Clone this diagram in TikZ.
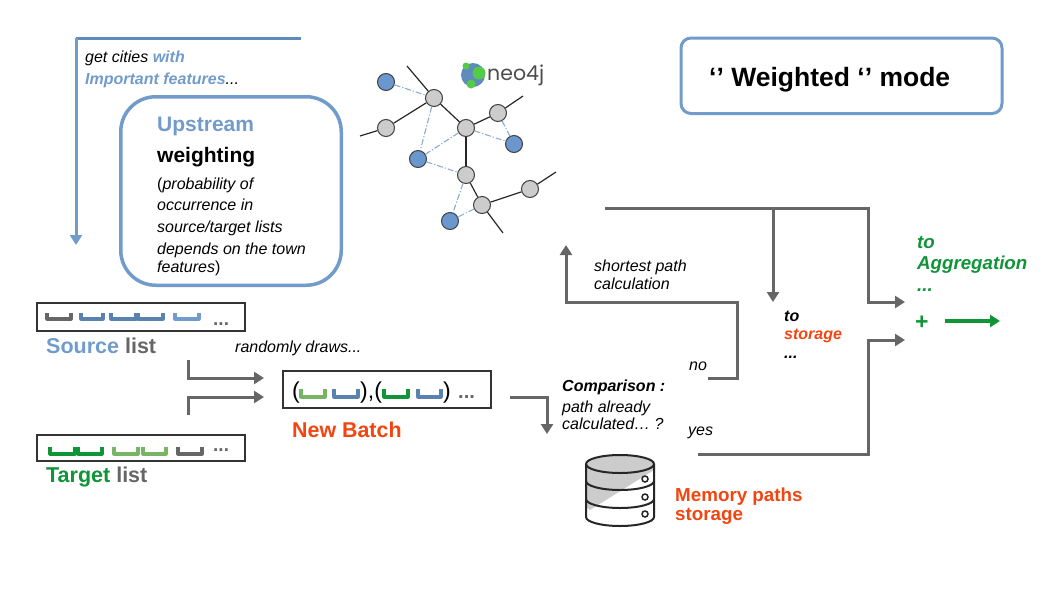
\documentclass[tikz,border=0pt]{standalone}
\usepackage{fontspec}
\setmainfont{Liberation Sans}
\newfontfamily\logofont{Poppins}
\usetikzlibrary{arrows.meta}
\definecolor{srcblue}{HTML}{719BCB}
\definecolor{slotblue}{HTML}{5B82AE}
\definecolor{lineblue}{HTML}{5F8ABC}
\definecolor{trggreen}{HTML}{0F9438}
\definecolor{lightgreen}{HTML}{77B565}
\definecolor{orangered}{HTML}{F2450F}
\definecolor{linegrey}{HTML}{666666}
\definecolor{nodegrey}{HTML}{CCCCCC}
\definecolor{nodeblue}{HTML}{6A97CE}
\tikzset{
  txt/.style={inner sep=0pt, anchor=base west, align=left},
  note/.style={txt, font=\fontsize{16}{18}\selectfont\itshape},
  notebold/.style={txt, font=\fontsize{16}{18}\selectfont\itshape\bfseries},
  flow/.style={draw=linegrey, line width=3pt, -{Triangle[length=10pt,width=12pt]}},
  bar/.style={draw=black!80, line width=2pt, fill=white},
  slotmark/.style={line width=3.2pt, line join=round},
  gnode/.style={circle, draw=black!75, line width=1pt, minimum size=17pt, inner sep=0pt, fill=nodegrey},
  bnode/.style={gnode, fill=nodeblue},
  solidedge/.style={draw=black!85, line width=1.2pt},
  dotedge/.style={draw=srcblue!85, line width=1.1pt, dash pattern=on 6pt off 2pt on 1.2pt off 2pt},
}
\newcommand{\slotmark}[5]{\draw[slotmark,#1] (#2,#4)--(#2,#5)--(#3,#5)--(#3,#4);}
\begin{document}
\begin{tikzpicture}[x=1pt, y=-1pt]
  \useasboundingbox (0,0) rectangle (1058,595);

  % mode box
  \node[draw=srcblue, line width=3pt, rounded corners=10pt, minimum width=321pt, minimum height=75.5pt, anchor=north west] (modebox) at (679.5,36.5) {};
  \node[txt, font=\fontsize{26.5}{30}\selectfont\bfseries] (modetext) at (709,86) {‘’ Weighted ‘’ mode};

  % upstream
  \coordinate (upA) at (301,38);
  \coordinate (upB) at (76,38);
  \coordinate (upC) at (76,245);
  \draw[lineblue, line width=3pt] (upA)--(upB);
  \draw[flow, draw=srcblue] (upB)--(upC);
  \node[note] (getcities) at (85,62) {get cities \textcolor{srcblue}{\bfseries with}};
  \node[note] (features) at (85,84) {\textcolor{srcblue}{\bfseries Important features}...};
  \node[draw=srcblue, line width=3.5pt, rounded corners=35pt, minimum width=220.5pt, minimum height=188.5pt, anchor=north west] (upbox) at (119,95) {};
  \node[txt, font=\fontsize{21}{24}\selectfont\bfseries, text=srcblue] (upstream) at (157,131) {Upstream};
  \node[txt, font=\fontsize{21}{24}\selectfont\bfseries] (weighting) at (157,162) {weighting};
  \node[note] (w1) at (157,189) {{\upshape(}probability of};
  \node[note] (w2) at (157,210) {occurrence in};
  \node[note] (w3) at (157,232) {source/target lists};
  \node[note] (w4) at (157,254) {depends on the town};
  \node[note] (w5) at (157,272) {features{\upshape)}};

  % graph
  \node[bnode] (na) at (386,82) {};
  \node[gnode] (nb) at (434,98) {};
  \node[gnode] (nc) at (386,128) {};
  \node[gnode] (nd) at (466,128) {};
  \node[gnode] (ne) at (498,113) {};
  \node[bnode] (nf) at (514,144) {};
  \node[bnode] (ng) at (418,159) {};
  \node[gnode] (nh) at (466,175) {};
  \node[gnode] (ni) at (482,205) {};
  \node[gnode] (nj) at (530,189) {};
  \node[bnode] (nk) at (450,221) {};
  \coordinate (fa) at (407,66);
  \coordinate (fb) at (360,136);
  \coordinate (fc) at (523,96);
  \coordinate (fd) at (556,172);
  \coordinate (fe) at (503,233);
  \foreach \p/\q in {fa/nb, nb/nd, fb/nc, nc/nb, nd/ne, ne/fc, nd/nh, nh/ni, ni/fe, ni/nj, nj/fd}
    \draw[solidedge] (\p)--(\q);
  \foreach \p/\q in {na/nb, nb/ng, nd/ng, nd/nf, ne/nf, ng/nh, nh/nk, ni/nk}
    \draw[dotedge] (\p)--(\q);

  % logo
  \node[circle, fill=lineblue, minimum size=24pt, inner sep=0pt] (globe) at (473,75) {};
  \draw[white, line width=1pt, densely dotted] (466,68) arc (150:250:9);
  \node[circle, fill=lightgreen!70!green, minimum size=13pt, inner sep=0pt] (glA) at (479,73) {};
  \node[circle, fill=lightgreen!70!green, minimum size=9pt, inner sep=0pt] (glB) at (471,84) {};
  \node[circle, fill=lightgreen!70!green, minimum size=7pt, inner sep=0pt] (glC) at (466,66) {};
  \node[txt, font=\fontsize{20.5}{24}\logofont, text=black!70] (neo) at (487,80) {neo4j};

  % lists
  \node[bar, minimum width=208pt, minimum height=28.5pt, anchor=north west] (srcbox) at (36,301.7) {};
  \slotmark{linegrey}{47}{71}{313}{319}
  \slotmark{slotblue}{81}{103}{313}{319}
  \slotmark{slotblue}{111}{136}{313}{319}
  \slotmark{slotblue}{138}{163}{313}{319}
  \slotmark{srcblue}{175}{199}{313}{319}
  \node[txt, font=\fontsize{19}{20}\selectfont\bfseries, text=linegrey] (srcdots) at (213,325) {...};
  \node[txt, font=\fontsize{21.5}{24}\selectfont\bfseries, text=srcblue] (srclabel) at (46,353) {Source \textcolor{linegrey}{list}};

  \node[bar, minimum width=208pt, minimum height=26pt, anchor=north west] (trgbox) at (36,434) {};
  \slotmark{trggreen}{50}{75}{447}{454}
  \slotmark{trggreen}{78}{102}{447}{454}
  \slotmark{lightgreen}{114}{138}{447}{454}
  \slotmark{lightgreen}{143}{166}{447}{454}
  \slotmark{linegrey}{178}{202}{447}{454}
  \node[txt, font=\fontsize{19}{20}\selectfont\bfseries, text=linegrey] (trgdots) at (213,451) {...};
  \node[txt, font=\fontsize{21.5}{24}\selectfont\bfseries, text=trggreen] (trglabel) at (46,482) {Target \textcolor{linegrey}{list}};

  % batch
  \node[note] (draws) at (235,352) {randomly draws...};
  \coordinate (srcend) at (188,360);
  \coordinate (trgend) at (188,415);
  \coordinate (batchA) at (264,378);
  \coordinate (batchB) at (264,397);
  \draw[flow] (srcend)|-(batchA);
  \draw[flow] (trgend)|-(batchB);
  \node[bar, minimum width=208pt, minimum height=37pt, anchor=north west] (batchbox) at (282,370) {};
  \node[txt, font=\fontsize{23}{26}\selectfont] (popen) at (292,398) {(};
  \node[txt, font=\fontsize{23}{26}\selectfont] (pmid) at (360,398) {),(};
  \node[txt, font=\fontsize{23}{26}\selectfont] (pclose) at (443,398) {)};
  \slotmark{lightgreen}{301}{325}{389}{397}
  \slotmark{slotblue}{334}{358}{389}{397}
  \slotmark{trggreen}{384}{408}{389}{397}
  \slotmark{slotblue}{418}{441}{389}{397}
  \node[txt, font=\fontsize{20}{20}\selectfont\bfseries, text=linegrey] (batchdots) at (458,398) {...};
  \node[txt, font=\fontsize{21.4}{24}\selectfont\bfseries, text=orangered] (batchlabel) at (292,437) {New Batch};

  % comparison
  \coordinate (batchout) at (510,397);
  \coordinate (cmpin) at (547,434);
  \draw[flow] (batchout)-|(cmpin);
  \node[notebold] (cmp) at (562,391) {Comparison :};
  \node[note] (cmpA) at (562,412) {path already};
  \node[note] (cmpB) at (562,429) {calculated… ?};
  \node[note] (no) at (689,370) {no};
  \node[note] (yes) at (688,435) {yes};
  \node[note] (spA) at (594,271) {shortest path};
  \node[note] (spB) at (594,289) {calculation};

  % storage
  \begin{scope}[line width=2pt, draw=black!85]
    \fill[nodegrey] (586,464) arc (180:360:34 and 9) -- (654,470) -- (590,510) -- (586,507) -- cycle;
    \draw (586,464) arc (180:-180:34 and 9);
    \draw (586,464)--(586,517) arc (180:0:34 and 9)--(654,464);
    \draw (586,481) arc (180:0:34 and 9);
    \draw (586,499) arc (180:0:34 and 9);
  \end{scope}
  \foreach \y in {479,497,514}
    \draw[black!85, line width=1.5pt, fill=white] (645,\y) circle (3);
  \node[txt, font=\fontsize{18.8}{22}\selectfont\bfseries, text=orangered] (memA) at (675,501) {Memory paths};
  \node[txt, font=\fontsize{18.8}{22}\selectfont\bfseries, text=orangered] (memB) at (675,520) {storage};

  % right side
  \coordinate (noA) at (708,378);
  \coordinate (noB) at (737,378);
  \coordinate (noC) at (737,302);
  \coordinate (noD) at (566,302);
  \coordinate (noE) at (566,245);
  \draw[flow] (noA)--(noB)--(noC)--(noD)--(noE);
  \coordinate (topA) at (605,208);
  \coordinate (topB) at (868,208);
  \coordinate (topC) at (868,302);
  \coordinate (topD) at (905,302);
  \draw[flow] (topA)--(topB)--(topC)--(topD);
  \coordinate (brA) at (773,208);
  \coordinate (brB) at (773,302);
  \draw[flow] (brA)--(brB);
  \coordinate (yesA) at (698,454);
  \coordinate (yesB) at (868,454);
  \coordinate (yesC) at (868,340);
  \coordinate (yesD) at (905,340);
  \draw[flow] (yesA)--(yesB)--(yesC)--(yesD);
  \node[notebold] (stA) at (784,321) {to};
  \node[notebold, text=orangered] (stB) at (784,339) {storage};
  \node[notebold] (stC) at (784,358) {...};
  \node[txt, font=\fontsize{18.7}{22}\selectfont\itshape\bfseries, text=trggreen] (agA) at (917,248) {to};
  \node[txt, font=\fontsize{18.7}{22}\selectfont\itshape\bfseries, text=trggreen] (agB) at (917,269) {Aggregation};
  \node[txt, font=\fontsize{18.7}{22}\selectfont\itshape\bfseries, text=trggreen] (agC) at (917,291) {...};
  \node[txt, font=\fontsize{23}{24}\selectfont\bfseries, text=trggreen] (plus) at (915,329) {+};
  \coordinate (outA) at (945,321);
  \coordinate (outB) at (1000,321);
  \draw[flow, draw=trggreen, line width=4pt] (outA)--(outB);
\end{tikzpicture}
\end{document}
